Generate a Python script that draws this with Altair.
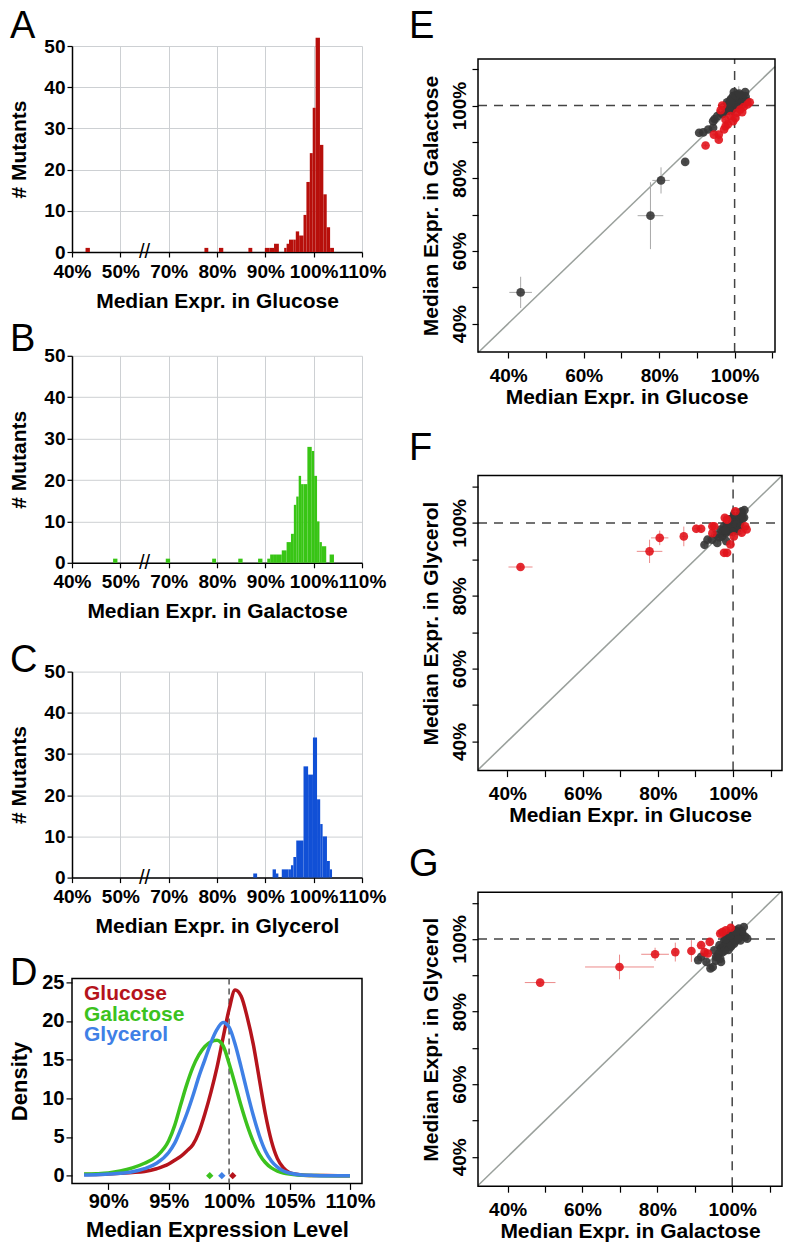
import altair as alt
import pandas as pd

FONT = "Liberation Sans"

# ---------------- Panels A-C: histogram bins (edges in %, counts) ----------------
glu_lo = [42.8, 77.4, 80.4, 86.5, 89.9, 90.9, 91.8, 93.9, 94.4, 94.9, 95.8, 96.3, 97.0, 97.9, 98.5, 99.2, 99.8, 100.4, 101.3, 102.0, 102.7, 103.4]
glu_hi = [43.7, 78.2, 81.3, 87.3, 90.9, 91.8, 92.8, 94.4, 94.9, 95.8, 96.3, 97.0, 97.9, 98.5, 99.2, 99.8, 100.4, 101.3, 102.0, 102.7, 103.4, 104.2]
glu_n = [1, 1, 1, 1, 1, 1, 2, 1, 2, 3, 3, 5, 4, 9, 17, 24, 35, 52, 26, 14, 6, 1]

gal_lo = [48.5, 69.4, 79.0, 84.4, 88.5, 90.4, 91.0, 91.6, 92.4, 93.4, 94.4, 95.3, 95.9, 96.4, 96.9, 97.4, 97.9, 98.7, 99.6, 100.1, 100.7, 101.2, 101.7, 103.3]
gal_hi = [49.4, 70.3, 79.8, 85.3, 89.4, 91.0, 91.6, 92.4, 93.4, 94.4, 95.3, 95.9, 96.4, 96.9, 97.4, 97.9, 98.7, 99.6, 100.1, 100.7, 101.2, 101.7, 102.6, 104.2]
gal_n = [1, 1, 1, 1, 1, 1, 2, 2, 2, 3, 5, 7, 14, 16, 21, 19, 19, 28, 27, 21, 10, 5, 4, 2]

gly_lo = [87.5, 91.5, 92.2, 93.4, 94.8, 95.3, 95.8, 96.4, 97.9, 98.85, 99.85, 100.7, 101.35, 101.85, 102.75, 103.35]
gly_hi = [88.3, 92.2, 92.7, 94.8, 95.3, 95.8, 96.4, 97.9, 98.85, 99.85, 100.7, 101.35, 101.85, 102.75, 103.35, 103.8]
gly_n = [1, 2, 1, 2, 2, 3, 5, 9, 27, 25, 34, 19, 13, 10, 4, 2]

# ---------------- Panel D: density curves ----------------
d_x = [88, 89, 90, 91, 92, 93, 94, 95, 95.5, 96, 96.5, 97, 97.5, 98, 98.5, 99, 99.5, 100, 100.5,
       101, 101.5, 102, 102.5, 103, 103.5, 104, 104.5, 105, 106, 107, 108, 109, 110]
d_glu = [0.15, 0.15, 0.2, 0.3, 0.4, 0.55, 0.9, 1.5, 2.0, 2.5, 3.2, 4.0, 5.6, 8.0, 10.8, 14.0, 17.8, 21.5, 24.0,
         23.2, 20.5, 17.0, 12.5, 8.0, 4.5, 2.2, 1.0, 0.4, 0.1, 0.03, 0.01, 0.0, 0.0]
d_gal = [0.2, 0.25, 0.35, 0.6, 1.0, 1.6, 2.5, 4.5, 6.5, 9.2, 11.8, 14.0, 15.6, 16.7, 17.3, 17.5, 16.8, 14.5, 11.8,
         9.0, 6.5, 4.4, 2.8, 1.7, 1.0, 0.6, 0.35, 0.2, 0.05, 0.02, 0.0, 0.0, 0.0]
d_gly = [0.1, 0.12, 0.2, 0.3, 0.5, 0.9, 1.6, 3.0, 4.2, 6.0, 8.0, 10.3, 12.8, 15.0, 17.2, 18.9, 19.8, 19.2, 17.0,
         14.0, 10.8, 7.8, 5.2, 3.2, 1.9, 1.1, 0.6, 0.35, 0.1, 0.03, 0.0, 0.0, 0.0]
media = ["Glucose", "Galactose", "Glycerol"]
media_median = [100.3, 98.4, 99.4]
media_color = ["#B5141C", "#3CC21E", "#3F80E6"]

# ---------------- Panel E: glucose (x) vs galactose (y) ----------------
e_gx = [43.3, 77.7, 80.5, 86.9, 90.6, 91.7, 93.0, 94.3, 94.3, 94.7, 95.4, 96.3, 97.6, 98.5, 98.9, 99.8, 102.8,
        100.2, 101.5, 102.4, 103.3, 101.1, 102.0, 99.3, 100.5, 98.0, 99.6, 100.8, 98.7, 101.3, 100.0, 97.1,
        99.0, 100.6, 101.8, 99.5, 100.9, 97.8, 98.3,
        99.2, 99.8, 100.4, 101.0, 101.6, 102.2, 102.9, 100.0, 100.7, 99.4, 98.2, 98.9, 101.9, 102.6, 100.3,
        101.2, 97.3, 96.8, 99.0, 100.9]
e_gy = [48.6, 69.7, 79.4, 84.5, 92.5, 92.6, 93.4, 93.9, 95.7, 96.3, 97.1, 98.0, 98.4, 99.3, 100.7, 103.7, 103.7,
        101.6, 102.1, 101.5, 101.2, 100.7, 100.3, 99.1, 99.6, 100.9, 102.6, 103.0, 100.0, 101.5, 100.5, 99.6,
        101.8, 102.4, 102.8, 100.0, 101.0, 99.0, 100.4,
        100.2, 101.0, 101.2, 102.0, 101.2, 102.2, 102.5, 99.2, 100.0, 99.6, 99.6, 101.4, 100.8, 100.8, 102.8,
        103.3, 98.8, 97.6, 98.4, 99.4]
e_gxe = [3.0, 3.4, 2.3] + [0.6] * 56
e_gye = [4.3, 9.2, 3.6, 0.8] + [0.6] * 17 + [4.6] + [0.6] * 37
e_rx = [96.7, 96.3, 97.6, 98.2, 97.2, 95.8, 94.5, 95.8, 92.3, 100.6, 101.5, 102.4, 103.4, 104.0, 98.9, 100.2,
        99.6, 97.6, 102.0]
e_ry = [100.0, 98.7, 96.1, 94.8, 93.4, 92.0, 92.0, 90.6, 89.0, 98.0, 98.9, 99.6, 100.3, 100.9, 97.1, 96.6,
        95.7, 94.3, 98.2]
e_rxe = [0.5] * 19
e_rye = [0.5] * 19

# ---------------- Panel F: glucose (x) vs glycerol (y) ----------------
f_gx = [92.4, 93.2, 94.4, 95.8, 95.4, 96.7, 97.6, 98.4, 99.3, 100.2, 101.5, 102.3, 103.0, 101.0, 101.9, 99.7,
        98.9, 100.6, 101.5, 98.0, 97.1, 99.0, 100.0, 101.0, 99.5, 98.2, 100.8, 102.5, 97.8, 98.2,
        99.0, 99.8, 100.5, 101.2, 101.8, 102.4, 100.0, 99.2, 98.5, 100.9, 102.0, 101.4, 99.9, 98.8, 100.3,
        101.8, 97.2, 96.4, 97.9, 102.9]
f_gy = [94.0, 95.4, 95.4, 94.5, 96.8, 98.2, 99.1, 100.0, 100.9, 101.8, 102.3, 103.2, 103.5, 100.5, 100.0, 99.1,
        97.7, 98.2, 99.1, 97.2, 96.3, 101.0, 100.0, 101.5, 98.0, 98.8, 102.8, 101.2, 97.5, 95.0,
        99.5, 100.2, 100.8, 101.0, 101.6, 102.0, 98.8, 98.2, 99.2, 99.6, 99.0, 97.8, 97.5, 100.6, 102.5,
        102.8, 97.8, 96.0, 98.0, 101.5]
f_gxe = [0.6] * 50
f_gye = [0.7] * 50
f_rx = [43.5, 77.8, 80.5, 86.9, 90.2, 91.5, 94.5, 97.8, 98.4, 100.6, 97.6, 98.4, 99.3, 100.2, 103.2, 103.6,
        102.3, 94.5, 95.0]
f_ry = [87.9, 92.2, 95.9, 96.3, 98.4, 98.4, 99.1, 101.4, 100.9, 103.2, 91.8, 91.8, 94.1, 96.3, 99.1, 98.2,
        97.3, 97.2, 99.1]
f_rxe = [3.2, 3.4, 2.3, 0.5, 0.6, 0.6] + [0.5] * 13
f_rye = [0.6, 3.2, 2.0, 2.7, 1.2, 1.2, 0.8, 0.8, 0.8, 0.8, 1.0, 1.0, 0.8, 0.8, 0.8, 0.8, 0.8, 0.8, 0.8]

# ---------------- Panel G: galactose (x) vs glycerol (y) ----------------
g_gx = [90.9, 91.7, 94.2, 94.8, 93.1, 95.7, 95.2, 96.6, 97.9, 98.7, 99.6, 100.9, 101.8, 102.7, 103.5, 104.0,
        102.2, 100.5, 98.7, 97.4, 96.1, 99.6, 101.4, 98.3, 97.0, 103.1,
        97.0, 97.8, 98.5, 99.2, 99.9, 100.6, 101.3, 102.0, 98.0, 99.0, 99.8, 100.8, 101.6, 96.4, 95.6, 96.8,
        98.2, 99.4, 102.6, 101.0]
g_gy = [94.2, 95.1, 91.9, 92.3, 93.7, 95.1, 96.9, 98.3, 99.6, 100.6, 101.5, 102.4, 102.9, 101.5, 100.6, 100.1,
        99.6, 98.7, 97.8, 96.4, 95.1, 97.8, 100.6, 98.7, 93.7, 103.3,
        97.5, 98.2, 99.0, 99.8, 100.4, 101.0, 101.5, 101.0, 96.8, 97.0, 98.2, 99.4, 100.0, 96.0, 94.0, 94.6,
        100.0, 101.0, 102.2, 102.0]
g_gxe = [0.8] * 46
g_gye = [0.8] * 46
g_rx = [48.7, 69.9, 79.4, 84.8, 89.1, 91.7, 92.6, 93.5, 94.0, 96.8, 98.3, 99.6, 97.4]
g_ry = [88.0, 92.3, 95.8, 96.4, 96.7, 98.3, 96.4, 96.0, 99.2, 101.5, 102.4, 103.1, 101.9]
g_rxe = [4.1, 9.2, 3.7] + [0.6] * 10
g_rye = [0.6, 3.4, 1.8, 2.6, 3.0, 1.0, 1.0, 1.0, 1.0, 0.8, 0.8, 0.8, 0.8]

GRID = "#cdd0d3"
TICKS = [40, 50, 60, 70, 80, 90, 100, 110]


def letter_mark(t, px, py):
    """Panel letter as a text mark placed in pixels relative to the panel's top-left corner."""
    return alt.Chart(pd.DataFrame({"t": [t]})).mark_text(
        font=FONT, fontSize=38, fontWeight="normal", align="left", baseline="alphabetic", color="black"
    ).encode(text="t:N", x=alt.value(px), y=alt.value(py))


def spacer(h, extra):
    """Invisible rule that reserves room below a panel."""
    return alt.Chart(pd.DataFrame({"z": [0]})).mark_rule(color="white", strokeOpacity=0).encode(
        x=alt.value(0), y=alt.value(h), y2=alt.value(h + extra))


def hist_panel(lo, hi, n, color, xtitle, let, height, ly, extra):
    df = pd.DataFrame({"lo": lo, "hi": hi, "n": n})
    xs = alt.Scale(domain=[40, 100], nice=False, zero=False)
    ys = alt.Scale(domain=[0, 50], nice=False)
    xaxis = alt.Axis(values=[40, 50, 60, 70, 80, 90, 100],
                     labelExpr="(datum.value < 55 ? datum.value : datum.value + 10) + '%'",
                     title=xtitle, grid=True, gridColor=GRID, tickSize=5, labelPadding=5,
                     titlePadding=9, labelOverlap=False, labelFlush=False)
    yaxis = alt.Axis(values=[0, 10, 20, 30, 40, 50], title="# Mutants", grid=True, gridColor=GRID,
                     tickSize=5, labelPadding=2, titlePadding=14)
    bars = alt.Chart(df).transform_calculate(
        x0="datum.lo >= 65 ? datum.lo - 10 : datum.lo",
        x1="datum.hi >= 65 ? datum.hi - 10 : datum.hi",
    ).mark_rect(color=color).encode(
        x=alt.X("x0:Q", scale=xs, axis=xaxis),
        x2="x1:Q",
        y=alt.Y("n:Q", scale=ys, axis=yaxis),
        y2=alt.datum(0),
    )
    brk = alt.Chart(pd.DataFrame({"b": [55]})).mark_text(
        text="//", fontSize=20, font=FONT, baseline="middle", align="center", color="black"
    ).encode(x=alt.X("b:Q", scale=xs), y=alt.datum(0))
    layers = [bars, brk, letter_mark(let, -62, ly)]
    if extra:
        layers.append(spacer(height, extra))
    return alt.layer(*layers).properties(width=290, height=height)


A = hist_panel(glu_lo, glu_hi, glu_n, "#B70F0B", "Median Expr. in Glucose", "A", 206, -7.8, 0)
B = hist_panel(gal_lo, gal_hi, gal_n, "#38C515", "Median Expr. in Galactose", "B", 207, -4.8, 69)
C = hist_panel(gly_lo, gly_hi, gly_n, "#1150D6", "Median Expr. in Glycerol", "C", 206, 0.2, 66)

# Panel D
dd = pd.DataFrame({
    "x": d_x * 3,
    "d": d_glu + d_gal + d_gly,
    "m": ["Glucose"] * len(d_x) + ["Galactose"] * len(d_x) + ["Glycerol"] * len(d_x),
})
dx_scale = alt.Scale(domain=[87, 111], nice=False, zero=False)
dy_scale = alt.Scale(domain=[-1, 25.5], nice=False)
cscale = alt.Scale(domain=media, range=media_color)
d_lines = alt.Chart(dd).mark_line(strokeWidth=3.5, interpolate="monotone").encode(
    x=alt.X("x:Q", scale=dx_scale, axis=alt.Axis(values=[90, 95, 100, 105, 110], labelExpr="datum.value + '%'",
            title="Median Expression Level", domain=False, grid=False, tickSize=6, labelPadding=2,
            titlePadding=8, labelOverlap=False, labelFontSize=20, titleFontSize=22)),
    y=alt.Y("d:Q", scale=dy_scale, axis=alt.Axis(values=[0, 5, 10, 15, 20, 25], title="Density", domain=False,
            grid=False, tickSize=6, labelPadding=2, titlePadding=10, labelFontSize=20, titleFontSize=22)),
    color=alt.Color("m:N", scale=cscale, legend=None),
    detail="m:N",
)
d_vline = alt.Chart(pd.DataFrame({"v": [100]})).mark_rule(color="#555555", strokeDash=[6, 4], strokeWidth=1.5).encode(
    x=alt.X("v:Q", scale=dx_scale))
dm = pd.DataFrame({"m": media, "med": media_median})
d_diam = alt.Chart(dm).mark_point(shape="diamond", filled=True, size=55, opacity=1).encode(
    x=alt.X("med:Q", scale=dx_scale), y=alt.Y("yy:Q", scale=dy_scale),
    color=alt.Color("m:N", scale=cscale, legend=None)).transform_calculate(yy="0")
d_legs = []
for name, col, yy in zip(media, media_color, [22, 42.5, 63]):
    d_legs.append(alt.Chart(pd.DataFrame({"m": [name]})).mark_text(
        font=FONT, fontWeight="bold", fontSize=21, align="left", baseline="alphabetic", color=col
    ).encode(text="m:N", x=alt.value(12), y=alt.value(yy)))
D = alt.layer(d_vline, d_lines, d_diam, *d_legs, letter_mark("D", -62, 6.2)).properties(
    width=290, height=205, view=alt.ViewBackground(stroke="black", strokeWidth=1.5))


def scatter_panel(gx, gy, gxe, gye, rx, ry, rxe, rye, xdom, ydom, w, h, top, xtitle, ytitle, let, ly, extra):
    # the plot box occupies rows [top, h] of the panel
    sx = alt.Scale(domain=xdom, nice=False, zero=False)
    sy = alt.Scale(domain=ydom, nice=False, zero=False, range=[h, top])
    lab = "datum.value % 20 == 0 ? datum.value + '%' : ''"
    xaxis = alt.Axis(values=TICKS, labelExpr=lab, title=xtitle, domain=False, grid=False, tickSize=6,
                     labelPadding=8, titlePadding=1, labelOverlap=False)
    yaxis = alt.Axis(values=TICKS, labelExpr=lab, title=ytitle, domain=False, grid=False, tickSize=6,
                     labelAngle=270, labelAlign="center", labelBaseline="bottom", labelPadding=3,
                     titlePadding=9, labelOverlap=False)
    ref = alt.Chart(pd.DataFrame({"x0": [xdom[0]], "x1": [xdom[1]], "y0": [ydom[0]], "y1": [ydom[1]],
                                  "c": [100]}))
    box = ref.mark_rect(filled=False, stroke="black", strokeWidth=1.5).encode(
        x=alt.X("x0:Q", scale=sx, axis=xaxis), x2="x1:Q", y=alt.Y("y0:Q", scale=sy, axis=yaxis), y2="y1:Q")
    diag = ref.mark_rule(color="#9aa09c", strokeWidth=1.5).encode(
        x=alt.X("x0:Q", scale=sx), y=alt.Y("x0:Q", scale=sy), x2="x1:Q", y2="x1:Q")
    vl = ref.mark_rule(color="#444444", strokeDash=[9, 7], strokeWidth=1.5).encode(
        x=alt.X("c:Q", scale=sx), y=alt.Y("y0:Q", scale=sy), y2="y1:Q")
    hl = ref.mark_rule(color="#444444", strokeDash=[9, 7], strokeWidth=1.5).encode(
        y=alt.Y("c:Q", scale=sy), x=alt.X("x0:Q", scale=sx), x2="x1:Q")
    layers = [diag, vl, hl]
    for (px, py, pxe, pye), ecol, pcol in [((gx, gy, gxe, gye), "#a9a9a9", "#363636"),
                                           ((rx, ry, rxe, rye), "#ec8a8a", "#E1141C")]:
        sub = alt.Chart(pd.DataFrame({"x": px, "y": py, "xe": pxe, "ye": pye})).transform_calculate(
            xlo="datum.x - datum.xe", xhi="datum.x + datum.xe",
            ylo="datum.y - datum.ye", yhi="datum.y + datum.ye")
        layers.append(sub.mark_rule(color=ecol, strokeWidth=1).encode(
            x=alt.X("xlo:Q", scale=sx), x2="xhi:Q", y=alt.Y("y:Q", scale=sy)))
        layers.append(sub.mark_rule(color=ecol, strokeWidth=1).encode(
            x=alt.X("x:Q", scale=sx), y=alt.Y("ylo:Q", scale=sy), y2="yhi:Q"))
        layers.append(sub.mark_circle(color=pcol, size=75, opacity=0.9).encode(
            x=alt.X("x:Q", scale=sx), y=alt.Y("y:Q", scale=sy)))
    layers.append(box)
    layers.append(letter_mark(let, -69, top + ly))
    if extra:
        layers.append(spacer(h, extra))
    return alt.layer(*layers).properties(width=w, height=h)


E = scatter_panel(e_gx, e_gy, e_gxe, e_gye, e_rx, e_ry, e_rxe, e_rye, [32, 110.7], [32.2, 112.8], 297, 306, 13,
                  "Median Expr. in Glucose", "Median Expr. in Galactose", "E", -20.8, 56.7)
F = scatter_panel(f_gx, f_gy, f_gxe, f_gye, f_rx, f_ry, f_rxe, f_rye, [32.2, 113], [32, 113], 304, 295, 0,
                  "Median Expr. in Glucose", "Median Expr. in Glycerol", "F", -15.8, 0)
G = scatter_panel(g_gx, g_gy, g_gxe, g_gye, g_rx, g_ry, g_rxe, g_rye, [32.1, 113.3], [31.9, 112.9], 304, 294, 0,
                  "Median Expr. in Galactose", "Median Expr. in Glycerol", "G", -16, 0)

left = alt.vconcat(A, B, C, D, spacing=9.8)
right = alt.vconcat(E, F, G, spacing=20.6)
chart = alt.ConcatChart(concat=[left, right], columns=2, align="none", spacing=23).properties(
    padding={"left": 0, "top": 0, "right": 0, "bottom": 0}
).configure_axis(
    labelFont=FONT, titleFont=FONT, labelFontWeight="bold", titleFontWeight="bold",
    labelFontSize=19, titleFontSize=21, labelColor="black", titleColor="black",
    tickColor="black", domainColor="black", tickWidth=1.2, domainWidth=1.5
).configure_view(stroke=None)

chart.save("out.html", embed_options={"renderer": "svg", "actions": False})
